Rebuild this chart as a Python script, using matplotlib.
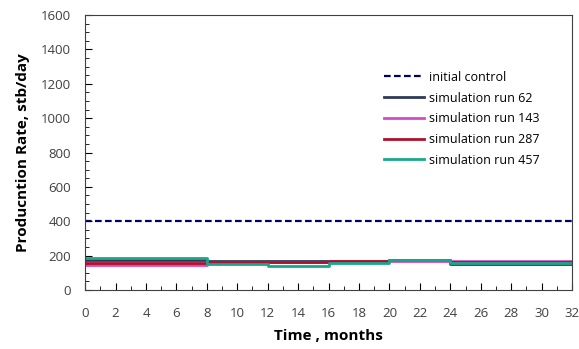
import matplotlib
matplotlib.use("Agg")
import matplotlib.pyplot as plt
from matplotlib.ticker import MultipleLocator

plt.rcParams['font.family'] = ['Open Sans', 'DejaVu Sans']

# time breaks (months) and step rates for each 4-month interval
t_edges = [0, 4, 8, 12, 16, 20, 24, 28, 32]
initial_control = [400] * 8
run_62 = [172, 172, 170, 170, 166, 172, 152, 152]
run_143 = [145, 145, 165, 165, 166, 170, 168, 168]
run_287 = [160, 160, 165, 165, 170, 175, 165, 165]
run_457 = [188, 188, 150, 140, 160, 175, 156, 156]

def steps(vals):
    return vals + [vals[-1]]

fig = plt.figure(figsize=(5.79, 3.49), dpi=100)
ax = fig.add_axes([0.147, 0.169, 0.841, 0.788])

ax.step(t_edges, steps(initial_control), where='post', color='#000066',
        ls=(0, (3, 1.5)), lw=1.6, label='initial control')
ax.step(t_edges, steps(run_62), where='post', color='#2e3a59', lw=2, label='simulation run 62')
ax.step(t_edges, steps(run_143), where='post', color='#d44cc4', lw=2, label='simulation run 143')
ax.step(t_edges, steps(run_287), where='post', color='#b0102a', lw=2, label='simulation run 287')
ax.step(t_edges, steps(run_457), where='post', color='#1aa88a', lw=2, label='simulation run 457')

ax.set_xlim(0, 32)
ax.set_ylim(0, 1600)
ax.xaxis.set_major_locator(MultipleLocator(2))
ax.xaxis.set_minor_locator(MultipleLocator(1))
ax.yaxis.set_major_locator(MultipleLocator(200))
ax.yaxis.set_minor_locator(MultipleLocator(50))
ax.tick_params(which='both', direction='in', top=False, right=False,
               labelsize=9.5, labelcolor='#404040')
ax.tick_params(which='major', length=5, pad=10)
ax.tick_params(axis='x', which='major', pad=12)
ax.tick_params(which='minor', length=3)
for s in ax.spines.values():
    s.set_color('#404040')

ax.set_xlabel('Time , months', fontsize=11, fontweight='bold', labelpad=7)
ax.set_ylabel('Producntion Rate, stb/day', fontsize=11, fontweight='bold', labelpad=8)

ax.legend(loc='upper left', bbox_to_anchor=(0.6, 0.82), frameon=False, fontsize=9,
          handlelength=3.2, handletextpad=0.4, labelspacing=0.62, borderpad=0)

fig.savefig('out.png', dpi=100)
